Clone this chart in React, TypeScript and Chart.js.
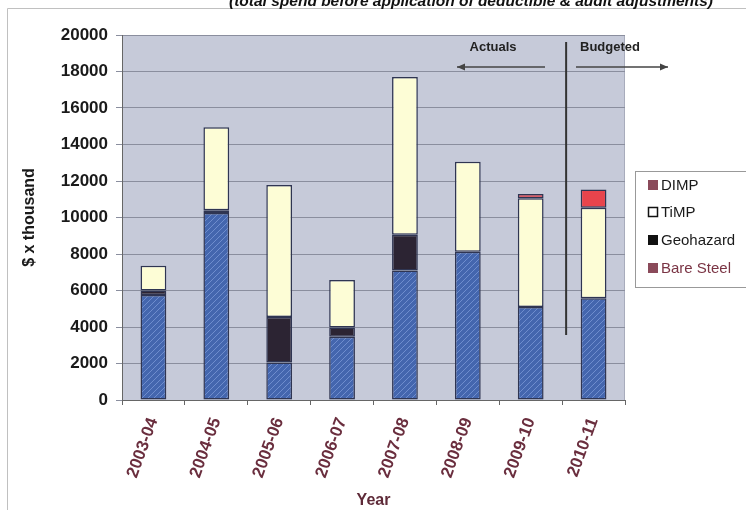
import React, { useEffect, useRef } from "react";
import { Chart, registerables } from "chart.js";

Chart.register(...registerables);

const categories = ["2003-04", "2004-05", "2005-06", "2006-07", "2007-08", "2008-09", "2009-10", "2010-11"];
const bareSteel = [5750, 10250, 2050, 3470, 7100, 8130, 5100, 5570];
const geohazard = [250, 150, 2500, 500, 1950, null, null, null];
const timp = [1350, 4550, 7230, 2600, 8650, 4930, 5950, 4970];
const dimp = [null, null, null, null, null, null, 240, 1000];
const legendItems = ["DIMP", "TiMP", "Geohazard", "Bare Steel"];
const titleText = "(total spend before application of deductible & audit adjustments)";

const FONT = "'Liberation Sans', Arial, sans-serif";

function makeHatch(): CanvasPattern | string {
  const c = document.createElement("canvas");
  c.width = 6;
  c.height = 6;
  const g = c.getContext("2d");
  if (!g) return "#4568b0";
  g.fillStyle = "#4466ae";
  g.fillRect(0, 0, 6, 6);
  g.strokeStyle = "rgba(125,155,215,0.75)";
  g.lineWidth = 1;
  g.beginPath();
  g.moveTo(-1, 7);
  g.lineTo(7, -1);
  g.moveTo(-1, 1);
  g.lineTo(1, -1);
  g.moveTo(5, 7);
  g.lineTo(7, 5);
  g.stroke();
  const p = g.createPattern(c, "repeat");
  return p || "#4568b0";
}

const decorPlugin = {
  id: "decor",
  beforeDraw(chart: any) {
    const { ctx, chartArea } = chart;
    ctx.save();
    ctx.fillStyle = "#ffffff";
    ctx.fillRect(0, 0, chart.width, chart.height);
    ctx.fillStyle = "#c6cad9";
    ctx.fillRect(chartArea.left, chartArea.top, chartArea.right - chartArea.left, chartArea.bottom - chartArea.top);
    ctx.strokeStyle = "#a8acbc";
    ctx.lineWidth = 1;
    ctx.strokeRect(chartArea.left + 0.5, chartArea.top + 0.5, chartArea.right - chartArea.left - 1, chartArea.bottom - chartArea.top);
    // outer frame
    ctx.strokeStyle = "#c0c0c0";
    ctx.beginPath();
    ctx.moveTo(7.5, chart.height);
    ctx.lineTo(7.5, 8.5);
    ctx.lineTo(chart.width, 8.5);
    ctx.stroke();
    ctx.restore();
  },
  afterDraw(chart: any) {
    const { ctx } = chart;
    const xs = chart.scales.x;
    ctx.save();
    // cut-off title
    ctx.font = `italic bold 15.5px ${FONT}`;
    ctx.fillStyle = "#111";
    ctx.textAlign = "center";
    ctx.textBaseline = "alphabetic";
    ctx.fillText(titleText, 471, 6);

    // divider line between actuals and budgeted
    const divX = (xs.getPixelForValue(6) + xs.getPixelForValue(7)) / 2 + 4;
    ctx.strokeStyle = "#333";
    ctx.lineWidth = 2;
    ctx.beginPath();
    ctx.moveTo(divX, 42);
    ctx.lineTo(divX, 335);
    ctx.stroke();

    ctx.font = `bold 13px ${FONT}`;
    ctx.fillStyle = "#222";
    ctx.textBaseline = "middle";
    ctx.textAlign = "center";
    ctx.fillText("Actuals", 493, 47);
    ctx.fillText("Budgeted", 610, 47);

    const arrow = (x1: number, x2: number, y: number) => {
      ctx.strokeStyle = "#444";
      ctx.fillStyle = "#444";
      ctx.lineWidth = 1.5;
      ctx.beginPath();
      ctx.moveTo(x1, y);
      ctx.lineTo(x2, y);
      ctx.stroke();
      const d = x2 > x1 ? 1 : -1;
      ctx.beginPath();
      ctx.moveTo(x2, y);
      ctx.lineTo(x2 - d * 8, y - 3.5);
      ctx.lineTo(x2 - d * 8, y + 3.5);
      ctx.closePath();
      ctx.fill();
    };
    arrow(545, 457, 67);
    arrow(576, 668, 67);

    // legend
    const lx = 635, ly = 171, lw = 115, lh = 116;
    ctx.fillStyle = "#fff";
    ctx.fillRect(lx, ly, lw, lh);
    ctx.strokeStyle = "#999";
    ctx.lineWidth = 1;
    ctx.strokeRect(lx + 0.5, ly + 0.5, lw, lh);
    const sw = ["#8a4a5a", "#ffffff", "#111111", "#8a4a5a"];
    const tc = ["#1a1a1a", "#1a1a1a", "#1a1a1a", "#7a3444"];
    const ys = [185, 212, 240, 268];
    ctx.font = `15px ${FONT}`;
    ctx.textAlign = "left";
    ctx.textBaseline = "middle";
    legendItems.forEach((t, i) => {
      ctx.fillStyle = sw[i];
      ctx.fillRect(648, ys[i] - 5, 10, 10);
      if (i === 1) {
        ctx.strokeStyle = "#111";
        ctx.lineWidth = 1.5;
        ctx.strokeRect(648.5, ys[i] - 4.5, 9, 9);
      }
      ctx.fillStyle = tc[i];
      ctx.fillText(t, 661, ys[i] + 1);
    });
    ctx.restore();
  },
};

export default function App() {
  const ref = useRef<HTMLCanvasElement>(null);
  useEffect(() => {
    document.body.style.margin = "0";
    const canvas = ref.current;
    if (!canvas) return;
    const hatch = makeHatch();
    const common = { borderColor: "#2f3552", borderWidth: 1.5, borderSkipped: false as const, categoryPercentage: 1, barPercentage: 0.41 };
    const chart = new Chart(canvas, {
      type: "bar",
      data: {
        labels: categories,
        datasets: [
          { label: "Bare Steel", data: bareSteel, backgroundColor: hatch as any, ...common },
          { label: "Geohazard", data: geohazard as any, backgroundColor: "#2c2433", ...common },
          { label: "TiMP", data: timp, backgroundColor: "#fdfdd6", ...common },
          { label: "DIMP", data: dimp as any, backgroundColor: "#e8444c", ...common },
        ],
      },
      options: {
        responsive: false,
        animation: false,
        layout: { padding: { top: 35, right: 121, left: 0, bottom: 0 } },
        plugins: { legend: { display: false }, tooltip: { enabled: false }, title: { display: false } },
        scales: {
          x: {
            stacked: true,
            offset: true,
            afterFit: (s: any) => { s.height = 110; },
            grid: { display: true, drawOnChartArea: false, offset: true, tickLength: 5, color: "#666" },
            border: { display: true, color: "#666", width: 1 },
            ticks: { minRotation: 70, maxRotation: 70, padding: 10, color: "#6a2e3e", font: { family: FONT, size: 17, weight: "bold" } },
            title: { display: true, text: "Year", color: "#5e2a38", padding: { top: 0, bottom: 0 }, font: { family: FONT, size: 16, weight: "bold" } },
          },
          y: {
            stacked: true,
            min: 0,
            max: 20000,
            afterFit: (s: any) => { s.width = 122; },
            grid: { color: "#8a8e9e", lineWidth: 1, tickLength: 6, drawTicks: true },
            border: { display: true, color: "#666", width: 1 },
            ticks: { stepSize: 2000, padding: 8, color: "#1a1a1a", callback: (v: any) => String(v), font: { family: FONT, size: 17, weight: "bold" } },
            title: { display: true, text: "$ x thousand", color: "#1a1a1a", padding: { top: 20, bottom: 0 }, font: { family: FONT, size: 16, weight: "bold" } },
          },
        },
      },
      plugins: [decorPlugin],
    });
    return () => chart.destroy();
  }, []);
  return (
    <div style={{ position: "absolute", left: 0, top: 0, width: 746, height: 510 }}>
      <canvas ref={ref} width={746} height={510} style={{ width: 746, height: 510 }} />
    </div>
  );
}
